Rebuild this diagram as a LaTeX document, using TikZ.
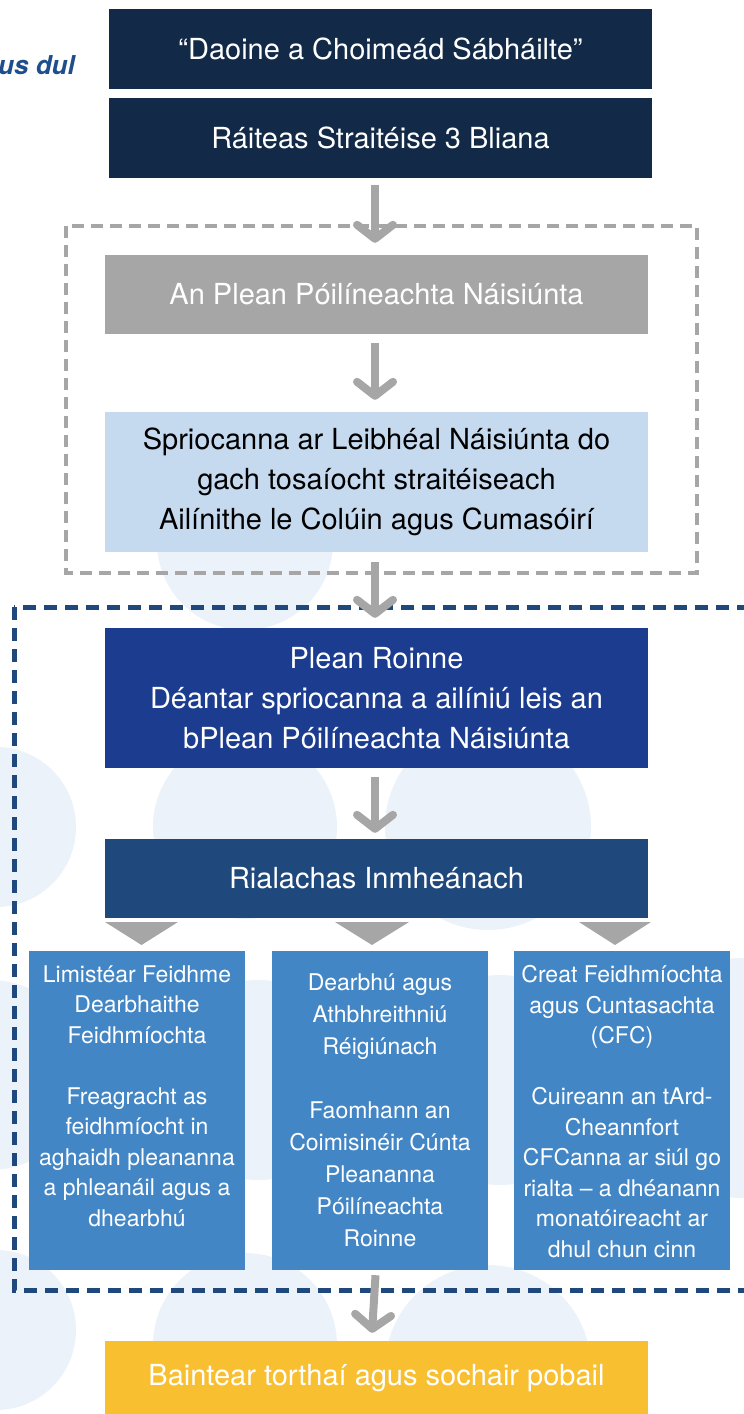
\documentclass[tikz,border=0pt]{standalone}
\usepackage{fontspec}
\setmainfont{TeX Gyre Heros}
\usetikzlibrary{arrows.meta}
\definecolor{navy}{HTML}{122A47}
\definecolor{agray}{HTML}{A6A6A6}
\definecolor{lblue}{HTML}{C5D9EF}
\definecolor{roinne}{HTML}{1B3C8F}
\definecolor{rial}{HTML}{1F497D}
\definecolor{mblue}{HTML}{4386C6}
\definecolor{yel}{HTML}{F8BF30}
\definecolor{circ}{HTML}{EBF2FA}
\definecolor{dblue}{HTML}{1F497D}
\definecolor{usdul}{HTML}{1F4E8C}
\tikzset{
  bigbox/.style={rectangle, inner sep=0pt, minimum width=543pt, align=center,
    font=\fontsize{29}{40}\selectfont, text=white},
  smallbox/.style={rectangle, inner sep=0pt, minimum width=216pt, minimum height=319pt, fill=mblue},
  smalltext/.style={inner sep=0pt, align=center, text=white, anchor=north,
    font=\fontsize{23}{30.5}\selectfont},
  flow/.style={draw=agray, line width=8pt,
    -{Straight Barb[length=14pt,width=36pt,round]}},
  tri/.style={fill=agray},
  bg/.style={fill=circ}
}
\begin{document}
\begin{tikzpicture}[x=1pt,y=-1pt]
\useasboundingbox (0,0) rectangle (744,1414);
% background circles
\fill[bg] (245,542) circle[radius=88pt];
\fill[bg] (-4,827) circle[radius=80pt];
\fill[bg] (245,827) circle[radius=92pt];
\fill[bg] (488,827) circle[radius=103pt];
\fill[bg] (-10,1075) circle[radius=95pt];
\fill[bg] (258,1080) circle[radius=100pt];
\fill[bg] (500,1080) circle[radius=105pt];
\fill[bg] (742,1078) circle[radius=120pt];
\fill[bg] (-4,1330) circle[radius=80pt];
\fill[bg] (245,1345) circle[radius=92pt];
\fill[bg] (488,1368) circle[radius=103pt];
% dashed frames
\draw[agray, line width=4pt, dash pattern=on 12pt off 7pt] (66,226) rectangle (697,573);
\draw[dblue, line width=5pt, dash pattern=on 13pt off 8pt] (14,607) rectangle (770,1290);
% side text
\node[anchor=base east, inner sep=0pt, text=usdul, font=\fontsize{26}{30}\selectfont\bfseries\itshape] (usdul) at (75,74) {us dul};
% boxes
\node[bigbox, fill=navy, minimum height=80pt] (b1) at (380.5,49) {“Daoine a Choimeád Sábháilte”};
\node[bigbox, fill=navy, minimum height=80pt] (b2) at (380.5,138) {Ráiteas Straitéise 3 Bliana};
\node[bigbox, fill=agray, minimum height=79pt] (pnp) at (376.5,294.5) {An Plean Póilíneachta Náisiúnta};
\node[bigbox, fill=lblue, text=black, minimum height=140pt] (spr) at (376.5,482) {Spriocanna ar Leibhéal Náisiúnta do\\gach tosaíocht straitéiseach\\Ailínithe le Colúin agus Cumasóirí};
\node[bigbox, fill=roinne, minimum height=140pt] (pr) at (376.5,698) {Plean Roinne\\Déantar spriocanna a ailíniú leis an\\bPlean Póilíneachta Náisiúnta};
\node[bigbox, fill=rial, minimum height=79pt] (ria) at (376.5,878.5) {Rialachas Inmheánach};
\node[smallbox] (ba) at (137,1110.5) {};
\node[smallbox] (bb) at (380,1110.5) {};
\node[smallbox] (bc) at (622,1110.5) {};
\node[bigbox, fill=yel, minimum height=74pt] (out) at (376.5,1378) {Baintear torthaí agus sochair pobail};
% small box texts
\node[smalltext] (ta) at (137,965.5) {Limistéar Feidhme\\Dearbhaithe\\Feidhmíochta\\[30.5pt]Freagracht as\\feidhmíocht in\\aghaidh pleananna\\a phleanáil agus a\\dhearbhú};
\node[smalltext, font=\fontsize{23}{32}\selectfont] (tb) at (380,973.5) {Dearbhú agus\\Athbhreithniú\\Réigiúnach\\[32pt]Faomhann an\\Coimisinéir Cúnta\\Pleananna\\Póilíneachta\\Roinne};
\node[smalltext] (tc) at (622,965.5) {Creat Feidhmíochta\\agus Cuntasachta\\(CFC)\\[30.5pt]Cuireann an tArd-\\Cheannfort\\CFCanna ar siúl go\\rialta – a dhéanann\\monatóireacht ar\\dhul chun cinn};
% triangles
\fill[tri] (105,922) -- (178,922) -- (141.5,945) -- cycle;
\fill[tri] (335,922) -- (409,922) -- (372,945) -- cycle;
\fill[tri] (579,922) -- (651,922) -- (615,945) -- cycle;
% arrows
\draw[flow] ([xshift=-5.5pt,yshift=-7pt]b2.south) -- ([xshift=-1.5pt,yshift=12pt]pnp.north);
\draw[flow] ([xshift=-1.5pt,yshift=-9pt]pnp.south) -- ([xshift=-1.5pt,yshift=12pt]spr.north);
\draw[flow] ([xshift=-1.5pt,yshift=-10pt]spr.south) -- ([xshift=-1.5pt,yshift=10pt]pr.north);
\draw[flow] ([xshift=-1.5pt,yshift=-9pt]pr.south) -- ([xshift=-1.5pt,yshift=6pt]ria.north);
\draw[flow] ([xshift=-4.5pt,yshift=-5pt]bb.south) -- ([xshift=-4.5pt,yshift=8pt]out.north);
\end{tikzpicture}
\end{document}
